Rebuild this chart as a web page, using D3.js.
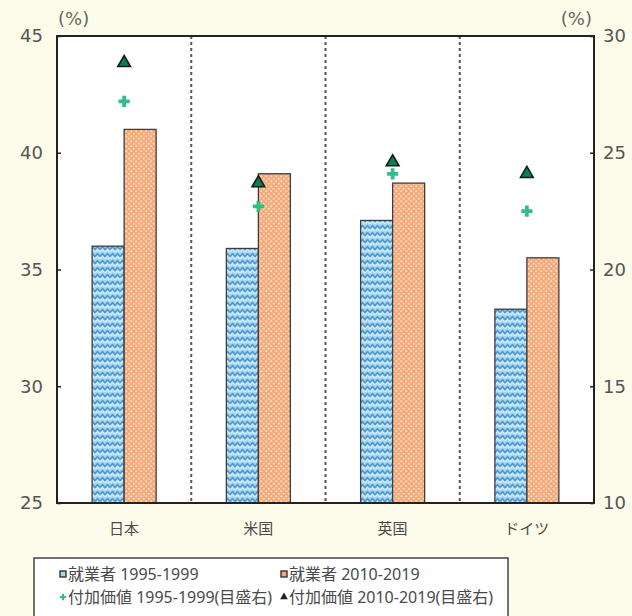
<!DOCTYPE html>
<html>
<head>
<meta charset="utf-8">
<script src="https://cdn.jsdelivr.net/npm/d3@7"></script>
<style>
  html, body { margin: 0; padding: 0; background: #fdfbe9; }
  svg { display: block; }
  text { font-family: "Noto Sans", "Noto Sans CJK JP", sans-serif; fill: #4a4a4a; }
</style>
</head>
<body>
<svg id="chart" width="632" height="616"></svg>
<script>
// Countries
const categories = ["日本", "米国", "英国", "ドイツ"];
// Employment share (left axis, %)
const workers1995 = [36.0, 35.9, 37.1, 33.3];
const workers2010 = [41.0, 39.1, 38.7, 35.5];
// Value-added share (right axis, %)
const value1995 = [27.2, 22.7, 24.1, 22.5];
const value2010 = [28.85, 23.7, 24.6, 24.1];
// Axis ticks
const leftTicks = [25, 30, 35, 40, 45];
const rightTicks = [10, 15, 20, 25, 30];
const legendLabels = [
  "就業者 1995-1999",
  "就業者 2010-2019",
  "付加価値 1995-1999(目盛右)",
  "付加価値 2010-2019(目盛右)"
];

const svg = d3.select("#chart");
const m = { left: 57, right: 38, top: 36, bottom: 113 };
const W = 632, H = 616;
const x0 = m.left, x1 = W - m.right, y0 = m.top, y1 = H - m.bottom;
const numFont = "'DejaVu Sans', sans-serif";

// Fill patterns
const defs = svg.append("defs");
const wave = defs.append("pattern").attr("id", "wave")
  .attr("patternUnits", "userSpaceOnUse").attr("width", 10).attr("height", 7);
wave.append("rect").attr("width", 10).attr("height", 7).attr("fill", "#a4d8f2");
wave.append("path").attr("d", "M0,4.5 L2.5,1.5 L5,4.5 L7.5,1.5 L10,4.5")
  .attr("fill", "none").attr("stroke", "#5296cc").attr("stroke-width", 1.5)
  .attr("stroke-linejoin", "round");
wave.append("path").attr("d", "M0,7.5 L2.5,4.5 L5,7.5 L7.5,4.5 L10,7.5")
  .attr("fill", "none").attr("stroke", "#e6f5fc").attr("stroke-width", 1)
  .attr("stroke-linejoin", "round");

const dots = defs.append("pattern").attr("id", "dots")
  .attr("patternUnits", "userSpaceOnUse").attr("width", 5).attr("height", 5);
dots.append("rect").attr("width", 5).attr("height", 5).attr("fill", "#f6a978");
dots.append("circle").attr("cx", 1.25).attr("cy", 1.25).attr("r", 1).attr("fill", "#fde0cb");
dots.append("circle").attr("cx", 3.75).attr("cy", 3.75).attr("r", 1).attr("fill", "#fde0cb");

// Scales
const yL = d3.scaleLinear().domain([25, 45]).range([y1, y0]);
const yR = d3.scaleLinear().domain([10, 30]).range([y1, y0]);
const xb = d3.scaleBand().domain(categories).range([x0, x1]);
const barW = 32;

// Plot area
svg.append("rect").attr("x", x0).attr("y", y0).attr("width", x1 - x0).attr("height", y1 - y0)
  .attr("fill", "#ffffff");

// Dotted group dividers
categories.slice(1).forEach(c => {
  svg.append("line").attr("x1", xb(c)).attr("x2", xb(c)).attr("y1", y0).attr("y2", y1)
    .attr("stroke", "#555").attr("stroke-width", 2).attr("stroke-dasharray", "3,3");
});

// Bars
const grp = svg.append("g");
categories.forEach((c, i) => {
  const cx = xb(c) + xb.bandwidth() / 2;
  grp.append("rect").attr("x", cx - barW).attr("y", yL(workers1995[i]))
    .attr("width", barW).attr("height", yL(25) - yL(workers1995[i]))
    .attr("fill", "url(#wave)").attr("stroke", "#3d3d3d").attr("stroke-width", 1.3);
  grp.append("rect").attr("x", cx).attr("y", yL(workers2010[i]))
    .attr("width", barW).attr("height", yL(25) - yL(workers2010[i]))
    .attr("fill", "url(#dots)").attr("stroke", "#3d3d3d").attr("stroke-width", 1.3);
});

// Markers (right axis)
const plus = d3.symbol().type(d3.symbolCross).size(70);
const tri = d3.symbol().type(d3.symbolTriangle).size(70);
categories.forEach((c, i) => {
  const cx = xb(c) + xb.bandwidth() / 2;
  svg.append("path").attr("d", plus).attr("transform", `translate(${cx},${yR(value1995[i])})`)
    .attr("fill", "#2fbf85");
  svg.append("path").attr("d", tri).attr("transform", `translate(${cx},${yR(value2010[i])})`)
    .attr("fill", "#0b7f55").attr("stroke", "#1a1a1a").attr("stroke-width", 1.6);
});

// Axes
const axL = d3.axisLeft(yL).tickValues(leftTicks).tickSize(-4).tickPadding(14);
const axR = d3.axisRight(yR).tickValues(rightTicks).tickSize(-4).tickPadding(9);
const gL = svg.append("g").attr("transform", `translate(${x0},0)`).call(axL);
const gR = svg.append("g").attr("transform", `translate(${x1},0)`).call(axR);
[gL, gR].forEach(g => {
  g.select(".domain").remove();
  g.selectAll(".tick line").attr("stroke", "#222").attr("stroke-width", 1.5);
  g.selectAll(".tick text").attr("font-size", 18).style("fill", "#555")
    .style("font-family", numFont);
});

// Frame
svg.append("rect").attr("x", x0).attr("y", y0).attr("width", x1 - x0).attr("height", y1 - y0)
  .attr("fill", "none").attr("stroke", "#222").attr("stroke-width", 2);

// Units
svg.append("text").attr("x", x0 + 1).attr("y", 25).style("font-size", "18px")
  .style("font-family", numFont).style("fill", "#666").text("(%)");
svg.append("text").attr("x", x1 - 2).attr("y", 25).style("font-size", "18px")
  .style("font-family", numFont).style("fill", "#666")
  .attr("text-anchor", "end").text("(%)");

// Category labels
categories.forEach(c => {
  svg.append("text").attr("x", xb(c) + xb.bandwidth() / 2).attr("y", 534)
    .attr("text-anchor", "middle").attr("font-size", 15).text(c);
});

// Legend
const lg = svg.append("g");
lg.append("rect").attr("x", 34).attr("y", 558).attr("width", 474).attr("height", 70)
  .attr("fill", "#ffffff").attr("stroke", "#444").attr("stroke-width", 1.5);
const legPos = [[63, 580], [284, 580], [63, 603], [284, 603]];
legendLabels.forEach((t, i) => {
  const [lx, ly] = legPos[i];
  const mk = lg.append("g").attr("transform", `translate(${lx},${ly - 6})`);
  if (i === 0) mk.append("rect").attr("x", -3).attr("y", -3).attr("width", 6).attr("height", 6)
    .attr("fill", "#a4d8f2").attr("stroke", "#333").attr("stroke-width", 1.4);
  if (i === 1) mk.append("rect").attr("x", -3).attr("y", -3).attr("width", 6).attr("height", 6)
    .attr("fill", "#f6a978").attr("stroke", "#333").attr("stroke-width", 1.4);
  if (i === 2) mk.append("path").attr("d", d3.symbol().type(d3.symbolCross).size(22)).attr("fill", "#2fbf85");
  if (i === 3) mk.append("path").attr("d", d3.symbol().type(d3.symbolTriangle).size(26)).attr("fill", "#222");
  lg.append("text").attr("x", lx + 5).attr("y", ly).attr("font-size", 16).text(t);
});
</script>
</body>
</html>
